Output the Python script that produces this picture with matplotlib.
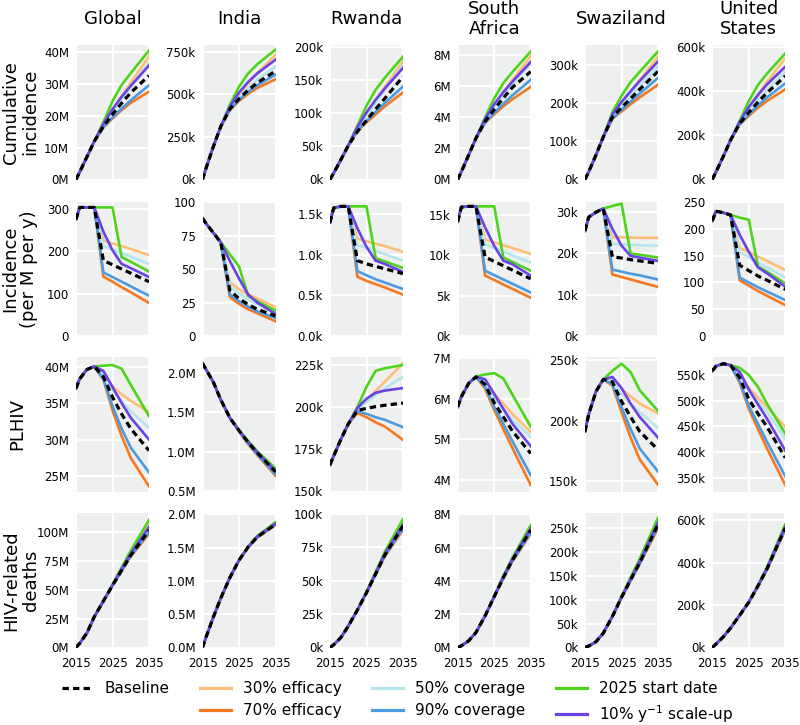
import matplotlib.pyplot as plt
from matplotlib.lines import Line2D

YEARS = [2015, 2016, 2018, 2020, 2022.5, 2025, 2027.5, 2030, 2035]

COUNTRIES = ["Global", "India", "Rwanda", "South\nAfrica", "Swaziland", "United\nStates"]
ROW_LABELS = ["Cumulative\nincidence", "Incidence\n(per M per y)", "PLHIV", "HIV-related\ndeaths"]

SERIES = ["base", "e30", "e70", "c50", "c90", "s25", "su10"]
LABELS = ["Baseline", "30% efficacy", "70% efficacy", "50% coverage",
          "90% coverage", "2025 start date", "10% y$^{-1}$ scale-up"]
COLORS = ["black", "#fdbf78", "#f47920", "#b5e6ec", "#4c9be0", "#4ed41a", "#6a42e6"]

# ---- cumulative incidence ----
CUM_GLOBAL = {  # M
    "base": [0, 2.3, 7.1, 11.9, 16.6, 20.4, 23.9, 27.2, 32.5],
    "e30": [0, 2.3, 7.1, 11.9, 17.1, 21.6, 26.0, 30.3, 38.5],
    "e70": [0, 2.3, 7.1, 11.9, 16.3, 19.1, 21.7, 24.0, 27.5],
    "c50": [0, 2.3, 7.1, 11.9, 17.0, 21.2, 25.3, 29.2, 36.5],
    "c90": [0, 2.3, 7.1, 11.9, 16.4, 19.4, 22.2, 24.8, 29.5],
    "s25": [0, 2.3, 7.1, 11.9, 17.9, 24.5, 29.6, 33.3, 40.4],
    "su10": [0, 2.3, 7.1, 11.9, 17.4, 22.0, 25.9, 29.3, 35.7],
}
CUM_INDIA = {  # k
    "base": [0, 68, 195, 311, 413, 474, 524, 567, 636],
    "e30": [0, 68, 195, 311, 420, 496, 564, 624, 730],
    "e70": [0, 68, 195, 311, 408, 460, 502, 537, 588],
    "c50": [0, 68, 195, 311, 416, 482, 538, 585, 662],
    "c90": [0, 68, 195, 311, 410, 466, 513, 553, 615],
    "s25": [0, 68, 195, 311, 438, 545, 622, 676, 762],
    "su10": [0, 68, 195, 311, 428, 510, 572, 622, 703],
}
CUM_RWANDA = {  # k
    "base": [0, 9.5, 30, 51, 72, 89, 106, 122, 155],
    "e30": [0, 9.5, 30, 51, 77, 98, 119, 139, 178],
    "e70": [0, 9.5, 30, 51, 73, 86, 98, 110, 131],
    "c50": [0, 9.5, 30, 51, 76, 96, 116, 135, 172],
    "c90": [0, 9.5, 30, 51, 74, 88, 102, 115, 140],
    "s25": [0, 9.5, 30, 51, 81, 111, 135, 153, 185],
    "su10": [0, 9.5, 30, 51, 79, 101, 120, 137, 168],
}
CUM_SAFRICA = {  # M
    "base": [0, 0.50, 1.57, 2.65, 3.73, 4.50, 5.23, 5.92, 6.93],
    "e30": [0, 0.50, 1.57, 2.65, 3.82, 4.71, 5.57, 6.40, 7.92],
    "e70": [0, 0.50, 1.57, 2.65, 3.64, 4.19, 4.70, 5.16, 5.95],
    "c50": [0, 0.50, 1.57, 2.65, 3.80, 4.62, 5.40, 6.14, 7.45],
    "c90": [0, 0.50, 1.57, 2.65, 3.66, 4.28, 4.86, 5.41, 6.40],
    "s25": [0, 0.50, 1.57, 2.65, 3.99, 5.21, 6.19, 6.91, 8.22],
    "su10": [0, 0.50, 1.57, 2.65, 3.89, 4.83, 5.61, 6.29, 7.55],
}
CUM_SWAZI = {  # k
    "base": [0, 20, 64, 111, 163, 188, 212, 236, 283],
    "e30": [0, 20, 64, 111, 168, 199, 230, 260, 322],
    "e70": [0, 20, 64, 111, 159, 178, 197, 215, 248],
    "c50": [0, 20, 64, 111, 166, 192, 218, 244, 296],
    "c90": [0, 20, 64, 111, 160, 182, 204, 225, 266],
    "s25": [0, 20, 64, 111, 176, 219, 255, 282, 335],
    "su10": [0, 20, 64, 111, 170, 203, 231, 258, 309],
}
CUM_US = {  # k
    "base": [0, 34, 104, 178, 253, 303, 350, 392, 468],
    "e30": [0, 34, 104, 178, 258, 323, 384, 442, 548],
    "e70": [0, 34, 104, 178, 249, 288, 324, 355, 408],
    "c50": [0, 34, 104, 178, 257, 310, 359, 405, 487],
    "c90": [0, 34, 104, 178, 250, 294, 335, 371, 435],
    "s25": [0, 34, 104, 178, 265, 355, 427, 479, 570],
    "su10": [0, 34, 104, 178, 261, 328, 382, 430, 510],
}

# ---- incidence per M per year ----
INC_GLOBAL = {
    "base": [275, 303, 303, 303, 178, 168, 158, 148, 128],
    "e30": [275, 303, 303, 303, 225, 218, 212, 205, 191],
    "e70": [275, 303, 303, 303, 140, 128, 115, 103, 78],
    "c50": [275, 303, 303, 303, 212, 204, 195, 187, 170],
    "c90": [275, 303, 303, 303, 150, 139, 128, 117, 95],
    "s25": [275, 303, 303, 303, 303, 303, 186, 175, 152],
    "su10": [275, 303, 303, 303, 246, 202, 170, 160, 139],
}
INC_INDIA = {
    "base": [88, 84, 77, 70, 34, 28, 23.5, 20, 15],
    "e30": [88, 84, 77, 70, 40, 35, 31, 28, 21.5],
    "e70": [88, 84, 77, 70, 29, 24, 20, 17, 11],
    "c50": [88, 84, 77, 70, 37, 32, 27, 24, 17.5],
    "c90": [88, 84, 77, 70, 31, 26, 22, 18.5, 13.5],
    "s25": [88, 84, 77, 70, 61, 52, 30, 26, 19],
    "su10": [88, 84, 77, 70, 56, 43, 31, 25, 16.5],
}
INC_RWANDA = {  # k
    "base": [1.40, 1.58, 1.60, 1.60, 0.93, 0.89, 0.86, 0.83, 0.77],
    "e30": [1.40, 1.58, 1.60, 1.60, 1.20, 1.17, 1.14, 1.11, 1.04],
    "e70": [1.40, 1.58, 1.60, 1.60, 0.73, 0.68, 0.64, 0.60, 0.51],
    "c50": [1.40, 1.58, 1.60, 1.60, 1.12, 1.09, 1.05, 1.01, 0.93],
    "c90": [1.40, 1.58, 1.60, 1.60, 0.80, 0.75, 0.70, 0.66, 0.58],
    "s25": [1.40, 1.58, 1.60, 1.60, 1.60, 1.60, 0.96, 0.92, 0.84],
    "su10": [1.40, 1.58, 1.60, 1.60, 1.33, 1.10, 0.93, 0.89, 0.79],
}
INC_SAFRICA = {  # k
    "base": [14.2, 16.0, 16.1, 16.1, 9.8, 9.26, 8.72, 8.18, 7.1],
    "e30": [14.2, 16.0, 16.1, 16.1, 12.0, 11.64, 11.28, 10.92, 10.2],
    "e70": [14.2, 16.0, 16.1, 16.1, 7.5, 6.95, 6.4, 5.85, 4.75],
    "c50": [14.2, 16.0, 16.1, 16.1, 11.4, 10.94, 10.48, 10.02, 9.1],
    "c90": [14.2, 16.0, 16.1, 16.1, 8.1, 7.56, 7.02, 6.48, 5.4],
    "s25": [14.2, 16.0, 16.1, 16.1, 16.1, 16.1, 9.75, 9.2, 8.1],
    "su10": [14.2, 16.0, 16.1, 16.1, 13.5, 11.2, 9.35, 8.9, 7.5],
}
INC_SWAZI = {  # k
    "base": [25.5, 28.8, 30.0, 30.9, 19.2, 18.9, 18.5, 18.2, 17.6],
    "e30": [25.5, 28.8, 30.0, 30.9, 23.9, 23.9, 23.85, 23.8, 23.8],
    "e70": [25.5, 28.8, 30.0, 30.9, 14.9, 14.3, 13.7, 13.1, 11.9],
    "c50": [25.5, 28.8, 30.0, 30.9, 22.3, 22.2, 22.1, 22.0, 21.9],
    "c90": [25.5, 28.8, 30.0, 30.9, 16.1, 15.6, 15.1, 14.7, 13.7],
    "s25": [25.5, 28.8, 30.0, 30.9, 31.5, 32.1, 20.0, 19.7, 19.0],
    "su10": [25.5, 28.8, 30.0, 30.9, 26.0, 21.9, 19.4, 19.0, 18.2],
}
INC_US = {
    "base": [215, 233, 230, 226, 132, 122, 112, 104, 87],
    "e30": [215, 233, 230, 226, 164, 157, 148, 140, 123],
    "e70": [215, 233, 230, 226, 104, 94, 84, 75, 57.5],
    "c50": [215, 233, 230, 226, 157, 147, 137, 128, 109],
    "c90": [215, 233, 230, 226, 109, 100, 91, 83, 67],
    "s25": [215, 233, 230, 226, 221, 217, 130, 120, 98],
    "su10": [215, 233, 230, 226, 189, 157, 128, 117, 92],
}

# ---- people living with HIV ----
PLHIV_GLOBAL = {  # M
    "base": [37.0, 38.3, 39.6, 40.0, 38.6, 35.8, 33.5, 31.5, 28.5],
    "e30": [37.0, 38.3, 39.6, 40.0, 39.0, 37.3, 36.2, 35.3, 33.8],
    "e70": [37.0, 38.3, 39.6, 40.0, 38.2, 34.0, 30.5, 27.5, 23.6],
    "c50": [37.0, 38.3, 39.6, 40.0, 38.9, 36.8, 35.2, 33.9, 31.6],
    "c90": [37.0, 38.3, 39.6, 40.0, 38.3, 34.6, 31.5, 28.9, 25.5],
    "s25": [37.0, 38.3, 39.6, 40.0, 40.1, 40.2, 39.7, 37.5, 33.2],
    "su10": [37.0, 38.3, 39.6, 40.0, 39.4, 37.2, 35.0, 33.0, 30.0],
}
PLHIV_INDIA = {  # M
    "base": [2.12, 2.04, 1.88, 1.66, 1.43, 1.27, 1.12, 0.99, 0.75],
    "e30": [2.12, 2.04, 1.88, 1.66, 1.43, 1.27, 1.13, 1.00, 0.77],
    "e70": [2.12, 2.04, 1.88, 1.66, 1.43, 1.26, 1.10, 0.96, 0.70],
    "c50": [2.12, 2.04, 1.88, 1.66, 1.43, 1.27, 1.125, 0.995, 0.76],
    "c90": [2.12, 2.04, 1.88, 1.66, 1.43, 1.265, 1.11, 0.97, 0.72],
    "s25": [2.12, 2.04, 1.88, 1.66, 1.43, 1.28, 1.14, 1.01, 0.79],
    "su10": [2.12, 2.04, 1.88, 1.66, 1.43, 1.27, 1.125, 0.995, 0.76],
}
PLHIV_RWANDA = {  # k
    "base": [165.8, 171, 181, 190, 198.0, 199.3, 200.3, 201.1, 202.4],
    "e30": [165.8, 171, 181, 190, 199.5, 204.5, 209.5, 215, 226],
    "e70": [165.8, 171, 181, 190, 196.5, 194, 191, 188.5, 180.6],
    "c50": [165.8, 171, 181, 190, 199, 203, 207, 211, 218],
    "c90": [165.8, 171, 181, 190, 197.5, 196, 194, 192.5, 188.1],
    "s25": [165.8, 171, 181, 190, 200, 212, 221.5, 223, 225],
    "su10": [165.8, 171, 181, 190, 199.5, 205, 208.5, 209.8, 211.3],
}
PLHIV_SAFRICA = {  # M
    "base": [5.80, 6.05, 6.38, 6.54, 6.35, 5.90, 5.55, 5.20, 4.65],
    "e30": [5.80, 6.05, 6.38, 6.54, 6.45, 6.12, 5.88, 5.62, 5.18],
    "e70": [5.80, 6.05, 6.38, 6.54, 6.25, 5.72, 5.25, 4.78, 3.87],
    "c50": [5.80, 6.05, 6.38, 6.54, 6.42, 6.02, 5.75, 5.48, 5.06],
    "c90": [5.80, 6.05, 6.38, 6.54, 6.30, 5.80, 5.38, 4.95, 4.11],
    "s25": [5.80, 6.05, 6.38, 6.54, 6.60, 6.63, 6.50, 6.10, 5.31],
    "su10": [5.80, 6.05, 6.38, 6.54, 6.48, 6.12, 5.75, 5.38, 4.83],
}
PLHIV_SWAZI = {  # k
    "base": [191, 205, 224, 234, 232, 216, 203, 191, 176],
    "e30": [191, 205, 224, 234, 235, 226, 220, 214, 206],
    "e70": [191, 205, 224, 234, 229, 207, 186, 168, 147],
    "c50": [191, 205, 224, 234, 234, 222, 214, 207, 194],
    "c90": [191, 205, 224, 234, 230, 211, 193, 177, 158],
    "s25": [191, 205, 224, 234, 241, 247, 240, 225, 208],
    "su10": [191, 205, 224, 234, 236, 227, 214, 203, 186],
}
PLHIV_US = {  # k
    "base": [558, 567, 572, 569, 545, 503, 475, 449, 389],
    "e30": [558, 567, 572, 569, 554, 525, 506, 488, 449],
    "e70": [558, 567, 572, 569, 535, 484, 445, 407, 336],
    "c50": [558, 567, 572, 569, 552, 520, 498, 478, 426],
    "c90": [558, 567, 572, 569, 538, 490, 455, 420, 353],
    "s25": [558, 567, 572, 569, 564, 550, 527, 494, 436],
    "su10": [558, 567, 572, 569, 556, 522, 493, 465, 403],
}

# ---- cumulative HIV-related deaths ----
DEATHS_GLOBAL = {  # M
    "base": [0, 3.5, 12.5, 26.5, 40, 53.5, 66.5, 79.5, 101],
    "e30": [0, 3.5, 12.5, 26.5, 40, 54, 68, 82, 106],
    "e70": [0, 3.5, 12.5, 26.5, 40, 53.3, 66, 78.5, 98],
    "c50": [0, 3.5, 12.5, 26.5, 40, 53.8, 67.5, 81, 104],
    "c90": [0, 3.5, 12.5, 26.5, 40, 53.4, 66.2, 79, 99.5],
    "s25": [0, 3.5, 12.5, 26.5, 40.2, 54.5, 69, 83.5, 110],
    "su10": [0, 3.5, 12.5, 26.5, 40, 53.8, 67.5, 81, 104],
}
DEATHS_INDIA = {  # M
    "base": [0, 0.16, 0.46, 0.74, 1.05, 1.31, 1.51, 1.66, 1.85],
    "e30": [0, 0.16, 0.46, 0.74, 1.05, 1.31, 1.51, 1.67, 1.87],
    "e70": [0, 0.16, 0.46, 0.74, 1.05, 1.31, 1.50, 1.65, 1.84],
    "c50": [0, 0.16, 0.46, 0.74, 1.05, 1.31, 1.51, 1.665, 1.86],
    "c90": [0, 0.16, 0.46, 0.74, 1.05, 1.31, 1.505, 1.655, 1.845],
    "s25": [0, 0.16, 0.46, 0.74, 1.05, 1.31, 1.515, 1.675, 1.88],
    "su10": [0, 0.16, 0.46, 0.74, 1.05, 1.31, 1.51, 1.665, 1.86],
}
DEATHS_RWANDA = {  # k
    "base": [0, 2, 7.5, 16, 28, 41, 55, 69, 91],
    "e30": [0, 2, 7.5, 16, 28, 41.3, 55.8, 70.3, 94],
    "e70": [0, 2, 7.5, 16, 28, 40.8, 54.5, 68, 88],
    "c50": [0, 2, 7.5, 16, 28, 41.2, 55.5, 70, 93],
    "c90": [0, 2, 7.5, 16, 28, 40.9, 54.7, 68.5, 89],
    "s25": [0, 2, 7.5, 16, 28.2, 41.8, 56.5, 71.5, 96],
    "su10": [0, 2, 7.5, 16, 28, 41.2, 55.5, 70, 92],
}
DEATHS_SAFRICA = {  # M
    "base": [0, 0.1, 0.4, 0.9, 1.9, 3.05, 4.2, 5.25, 7.05],
    "e30": [0, 0.1, 0.4, 0.9, 1.9, 3.07, 4.25, 5.33, 7.2],
    "e70": [0, 0.1, 0.4, 0.9, 1.9, 3.03, 4.15, 5.17, 6.85],
    "c50": [0, 0.1, 0.4, 0.9, 1.9, 3.06, 4.23, 5.3, 7.15],
    "c90": [0, 0.1, 0.4, 0.9, 1.9, 3.04, 4.17, 5.2, 6.9],
    "s25": [0, 0.1, 0.4, 0.9, 1.91, 3.1, 4.3, 5.4, 7.35],
    "su10": [0, 0.1, 0.4, 0.9, 1.9, 3.06, 4.23, 5.3, 7.15],
}
DEATHS_SWAZI = {  # k
    "base": [0, 3, 12, 30, 65, 105, 142, 178, 258],
    "e30": [0, 3, 12, 30, 65, 106, 144, 181, 265],
    "e70": [0, 3, 12, 30, 65, 104, 140, 175, 250],
    "c50": [0, 3, 12, 30, 65, 105.5, 143, 180, 262],
    "c90": [0, 3, 12, 30, 65, 104.5, 141, 176, 254],
    "s25": [0, 3, 12, 30, 65.5, 107, 147, 186, 272],
    "su10": [0, 3, 12, 30, 65, 105.5, 143, 180, 262],
}
DEATHS_US = {  # k
    "base": [0, 16, 50, 92, 152, 214, 290, 372, 565],
    "e30": [0, 16, 50, 92, 152, 215, 292, 376, 575],
    "e70": [0, 16, 50, 92, 152, 213, 288, 368, 556],
    "c50": [0, 16, 50, 92, 152, 214.5, 291, 374, 570],
    "c90": [0, 16, 50, 92, 152, 213.5, 289, 370, 560],
    "s25": [0, 16, 50, 92, 152.5, 216, 294, 380, 582],
    "su10": [0, 16, 50, 92, 152, 214.5, 291, 374, 570],
}

PANELS = [
    [CUM_GLOBAL, CUM_INDIA, CUM_RWANDA, CUM_SAFRICA, CUM_SWAZI, CUM_US],
    [INC_GLOBAL, INC_INDIA, INC_RWANDA, INC_SAFRICA, INC_SWAZI, INC_US],
    [PLHIV_GLOBAL, PLHIV_INDIA, PLHIV_RWANDA, PLHIV_SAFRICA, PLHIV_SWAZI, PLHIV_US],
    [DEATHS_GLOBAL, DEATHS_INDIA, DEATHS_RWANDA, DEATHS_SAFRICA, DEATHS_SWAZI, DEATHS_US],
]

# axis setup per panel: (ylim, yticks, label format)
AXES = [
    [((0, 42.1), [0, 10, 20, 30, 40], "{:.0f}M"),
     ((0, 789), [0, 250, 500, 750], "{:.0f}k"),
     ((0, 202.5), [0, 50, 100, 150, 200], "{:.0f}k"),
     ((0, 8.64), [0, 2, 4, 6, 8], "{:.0f}M"),
     ((0, 352), [0, 100, 200, 300], "{:.0f}k"),
     ((0, 608), [0, 200, 400, 600], "{:.0f}k")],
    [((0, 317), [0, 100, 200, 300], "{:.0f}"),
     ((0, 100.5), [0, 25, 50, 75, 100], "{:.0f}"),
     ((0, 1.66), [0, 0.5, 1.0, 1.5], "{:.1f}k"),
     ((0, 16.7), [0, 5, 10, 15], "{:.0f}k"),
     ((0, 32.6), [0, 10, 20, 30], "{:.0f}k"),
     ((0, 251), [0, 50, 100, 150, 200, 250], "{:.0f}")],
    [((22.9, 41.3), [25, 30, 35, 40], "{:.0f}M"),
     ((0.5, 2.2), [0.5, 1.0, 1.5, 2.0], "{:.1f}M"),
     ((150, 229.7), [150, 175, 200, 225], "{:.0f}k"),
     ((3.71, 7.03), [4, 5, 6, 7], "{:.0f}M"),
     ((141.5, 252.5), [150, 200, 250], "{:.0f}k"),
     ((323.5, 585), [350, 400, 450, 500, 550], "{:.0f}k")],
    [((0, 116), [0, 25, 50, 75, 100], "{:.0f}M"),
     ((0, 2.02), [0, 0.5, 1.0, 1.5, 2.0], "{:.1f}M"),
     ((0, 100.6), [0, 25, 50, 75, 100], "{:.0f}k"),
     ((0, 8.08), [0, 2, 4, 6, 8], "{:.0f}M"),
     ((0, 282), [0, 50, 100, 150, 200, 250], "{:.0f}k"),
     ((0, 635), [0, 200, 400, 600], "{:.0f}k")],
]

W, H = 800, 725
COL_LEFT = [76, 202.5, 330, 457.7, 585, 712.3]
ROW_TOP = [45, 201.5, 357, 513]
AX_W, AX_H = 73, 134.5
ROW_LABEL_X = [21, 19.5, 17.5, 21]
BG = "#eeefef"

fig = plt.figure(figsize=(W / 100, H / 100), dpi=100)

for r, row in enumerate(PANELS):
    for c, data in enumerate(row):
        left = COL_LEFT[c] / W
        bottom = 1 - (ROW_TOP[r] + AX_H) / H
        ax = fig.add_axes([left, bottom, AX_W / W, AX_H / H])
        ax.set_facecolor(BG)

        for key, color in zip(SERIES[1:], COLORS[1:]):
            ax.plot(YEARS, data[key], color=color, lw=1.9, solid_joinstyle="round")
        ax.plot(YEARS, data["base"], color="black", lw=2.3, dashes=(2, 1.3))

        ylim, yticks, fmt = AXES[r][c]
        ax.set_xlim(2015, 2035)
        ax.set_ylim(*ylim)
        ax.set_xticks([2015, 2025, 2035])
        ax.set_yticks(yticks)
        ax.set_yticklabels([fmt.format(v) for v in yticks])
        ax.grid(color="white", lw=1.6)
        ax.set_axisbelow(True)
        for s in ax.spines.values():
            s.set_visible(False)
        ax.tick_params(axis="y", length=0, labelsize=8.5, pad=5)
        ax.tick_params(axis="x", length=0, labelsize=8.5, pad=6.5)
        if r < 3:
            ax.set_xticklabels([])

        if r == 0:
            fig.text((COL_LEFT[c] + AX_W / 2) / W, 1 - 19 / H, COUNTRIES[c],
                     ha="center", va="center", fontsize=13, linespacing=1.1)
    fig.text(ROW_LABEL_X[r] / W, 1 - (ROW_TOP[r] + AX_H / 2) / H, ROW_LABELS[r],
             rotation=90, ha="center", va="center", fontsize=13, linespacing=1.1)

handles = [Line2D([], [], color="black", lw=2.3, dashes=(2, 1.3)),
           Line2D([], [], lw=0)]
labels = [LABELS[0], " "]
for lab, color in zip(LABELS[1:], COLORS[1:]):
    handles.append(Line2D([], [], color=color, lw=2.3))
    labels.append(lab)

fig.legend(handles, labels, loc="center", bbox_to_anchor=(0.497, 1 - 703 / H),
           ncol=4, frameon=False, fontsize=11, handlelength=2.0,
           handletextpad=0.8, columnspacing=2.0, labelspacing=0.42,
           borderpad=0.1)

fig.savefig("out.png", dpi=100)
